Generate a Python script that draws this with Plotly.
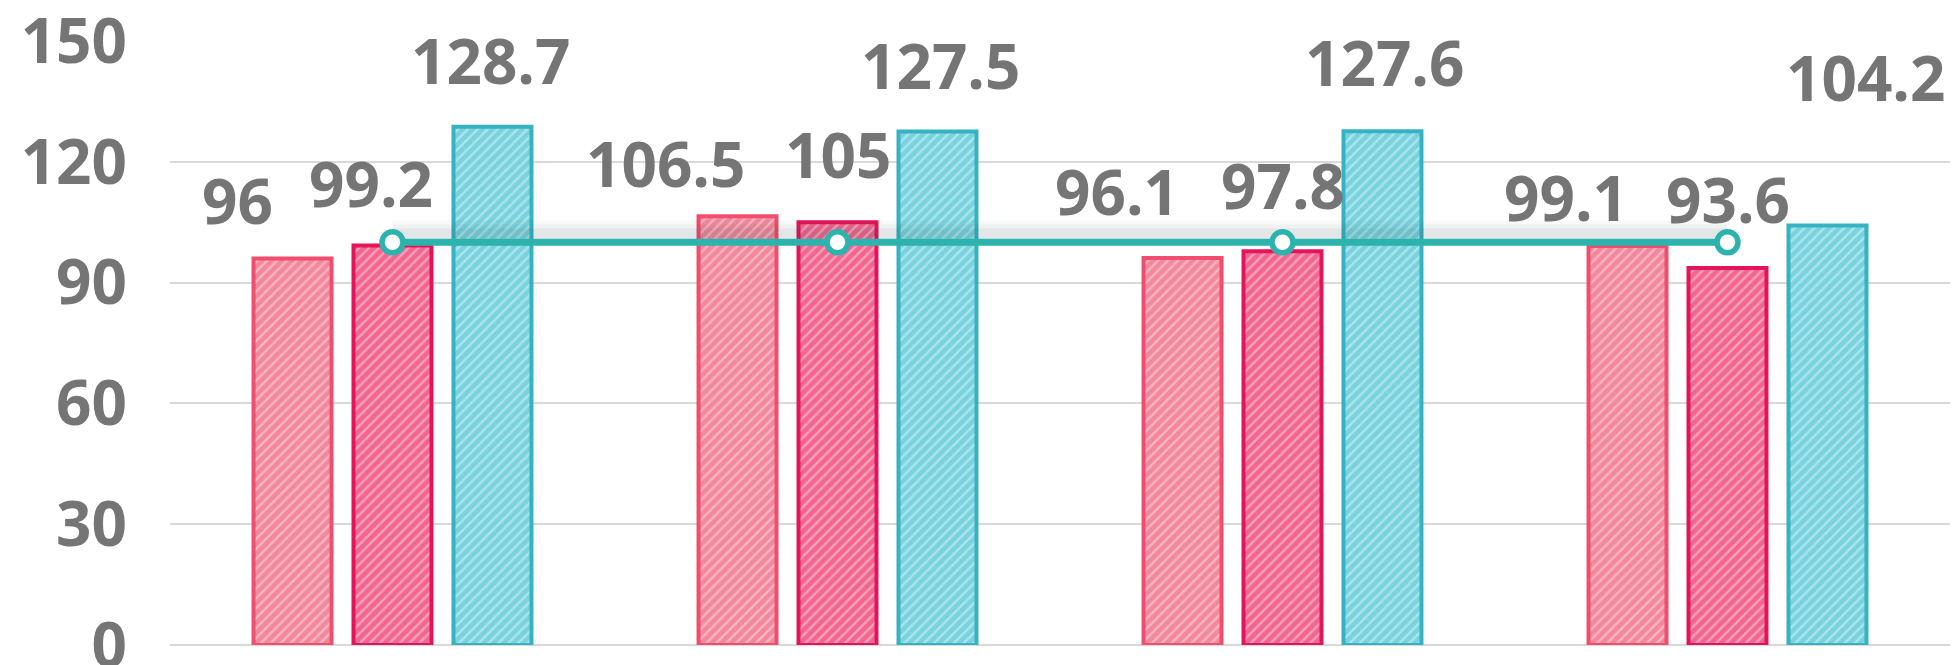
import plotly.graph_objects as go

# ---- data -------------------------------------------------------------
categories = ["第一季度", "第二季度", "第三季度", "第四季度"]
series_a = [96, 106.5, 96.1, 99.1]
series_b = [99.2, 105, 97.8, 93.6]
series_c = [128.7, 127.5, 127.6, 104.2]
target_line = [100, 100, 100, 100]
y_tick_values = [0, 30, 60, 90, 120, 150]

# ---- styling ----------------------------------------------------------
FONT = "Open Sans"
TEXT_GREY = "#757575"
GRID = "#d9d9d9"
TEAL = "#2cb3ad"
LABEL_SIZE = 62

bar_styles = [
    dict(bg="#f4879b", border="#f14d6c"),
    dict(bg="#f3658e", border="#e3145a"),
    dict(bg="#78d3de", border="#36b2c2"),
]

# pixel pitch between neighbouring bars in a group (used to place labels)
BAR_PITCH = 100
# label nudges in pixels (dx: horizontal, dy: height of label centre above bar top)
label_dx = [[-55, -72, -66, -62], [-22, 0, 0, 0], [-2, 3, 2, 38]]
label_dy = [[58, 53, 67, 49], [63, 68, 66, 69], [67, 67, 69, 148]]

fig = go.Figure()

all_series = [series_a, series_b, series_c]
for values, st in zip(all_series, bar_styles):
    fig.add_trace(go.Bar(
        x=categories, y=values,
        marker=dict(
            color=st["bg"],
            line=dict(color=st["border"], width=4),
            pattern=dict(shape="/", bgcolor=st["bg"], fgcolor="white",
                         fgopacity=0.38, size=7, solidity=0.36),
        ),
        hoverinfo="skip", showlegend=False,
    ))

# soft drop shadow beneath the reference line (same values, drawn a few px lower)
for w, a in [(26, 0.03), (18, 0.045), (10, 0.06)]:
    fig.add_trace(go.Scatter(
        x=categories, y=target_line, yaxis="y2", mode="lines",
        line=dict(color=f"rgba(40,60,60,{a})", width=w),
        hoverinfo="skip", showlegend=False,
    ))

fig.add_trace(go.Scatter(
    x=categories, y=target_line, yaxis="y3", mode="lines+markers",
    line=dict(color=TEAL, width=7),
    marker=dict(size=21, color="white", line=dict(color=TEAL, width=5.5)),
    hoverinfo="skip", showlegend=False,
))

# value labels
for i, values in enumerate(all_series):
    for j, (cat, v) in enumerate(zip(categories, values)):
        fig.add_annotation(
            x=cat, y=v, xref="x", yref="y",
            text=f"{v:g}", showarrow=False,
            xanchor="center", yanchor="middle",
            xshift=(i - 1) * BAR_PITCH + label_dx[i][j],
            yshift=label_dy[i][j],
            font=dict(family=FONT, size=LABEL_SIZE, color=TEXT_GREY, weight="bold"),
        )

y_range = [0, 150]
shadow_shift = 2.2
fig.update_layout(
    width=1952, height=665,
    margin=dict(l=170, r=2, t=41, b=20, autoexpand=False),
    paper_bgcolor="white", plot_bgcolor="white",
    barmode="group", bargap=0.326, bargroupgap=0.22,
    xaxis=dict(showticklabels=False, showgrid=False, zeroline=False,
               showline=False, ticks="", automargin=False),
    yaxis=dict(range=y_range, tickvals=y_tick_values, automargin=False,
               showgrid=True, gridcolor=GRID, gridwidth=2,
               zeroline=True, zerolinecolor=GRID, zerolinewidth=2,
               showline=False, ticks="", ticklabelstandoff=42,
               ticklabeloverflow="allow",
               tickfont=dict(family=FONT, size=LABEL_SIZE, color=TEXT_GREY, weight="bold")),
    yaxis2=dict(range=[y_range[0] - shadow_shift, y_range[1] - shadow_shift],
                overlaying="y", visible=False),
    yaxis3=dict(range=y_range, overlaying="y", visible=False),
)

fig.write_html("out.html")
